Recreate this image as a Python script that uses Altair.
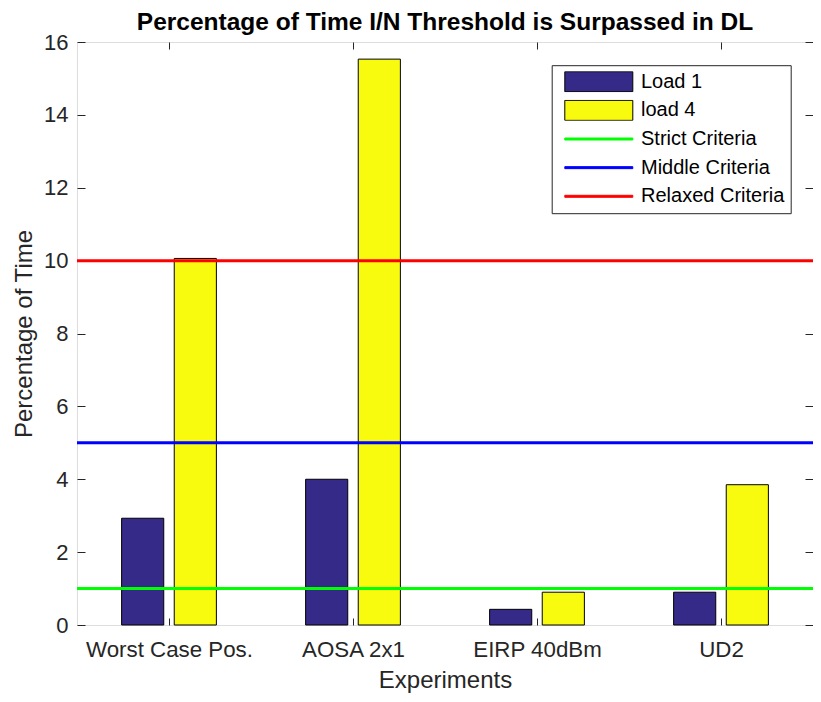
import json
import altair as alt
import pandas as pd

# ---------------- data ----------------
categories = ["Worst Case Pos.", "AOSA 2x1", "EIRP 40dBm", "UD2"]
load1_values = [2.93, 4.00, 0.43, 0.90]
load4_values = [10.06, 15.53, 0.90, 3.85]
bar_series = ["Load 1", "load 4"]
criteria_names = ["Strict Criteria", "Middle Criteria", "Relaxed Criteria"]
criteria_values = [1, 5, 10]
y_tick_values = [0, 2, 4, 6, 8, 10, 12, 14, 16]
x_tick_values = [1, 2, 3, 4]

# ---------------- styles ----------------
series_order = bar_series + criteria_names
fill_colors = ["#352a87", "#f9fb0e", "#00ff00", "#0000ff", "#ff0000"]
stroke_colors = ["#000000", "#000000", "#00ff00", "#0000ff", "#ff0000"]
bar_shape = "M-0.34,-1H6.46V1H-0.34Z"
line_shape = "M-0.34,-0.1H6.46V0.1H-0.34Z"
shapes = [bar_shape, bar_shape, line_shape, line_shape, line_shape]
FONT = "Liberation Sans"
TXT = "#262626"
BAR_W = 0.229
OFFSET = 0.143

rows = []
for i, cat in enumerate(categories):
    rows.append({"category": cat, "group": i + 1, "slot": 0,
                 "series": bar_series[0], "value": load1_values[i]})
    rows.append({"category": cat, "group": i + 1, "slot": 1,
                 "series": bar_series[1], "value": load4_values[i]})
bars_df = pd.DataFrame(rows)
crit_df = pd.DataFrame({"series": criteria_names, "value": criteria_values})

x_scale = alt.Scale(domain=[0.5, 4.5], nice=False, zero=False)
y_scale = alt.Scale(domain=[0, 16], nice=False, zero=False)
fill_scale = alt.Scale(domain=series_order, range=fill_colors)
stroke_scale = alt.Scale(domain=series_order, range=stroke_colors)
shape_scale = alt.Scale(domain=series_order, range=shapes)

label_expr = json.dumps(categories) + "[datum.value - 1]"
names_js = json.dumps(series_order)
fill_expr = f"{json.dumps(fill_colors)}[indexof({names_js}, datum.series)]"
stroke_expr = f"{json.dumps(stroke_colors)}[indexof({names_js}, datum.series)]"

common_axis = dict(grid=False, domain=False, tickColor=TXT, tickWidth=1,
                   labelFont=FONT, labelColor=TXT, titleFont=FONT,
                   titleColor=TXT, titleFontWeight="normal")

bars = alt.Chart(bars_df).transform_calculate(
    x0=f"datum.group + (datum.slot == 0 ? {-OFFSET} : {OFFSET}) - {BAR_W / 2}",
    x1=f"datum.group + (datum.slot == 0 ? {-OFFSET} : {OFFSET}) + {BAR_W / 2}",
    base="0",
    fillc=fill_expr,
).mark_bar(stroke="#000000", strokeWidth=1).encode(
    x=alt.X("x0:Q", scale=x_scale,
            axis=alt.Axis(orient="bottom", values=x_tick_values, labelExpr=label_expr,
                          title="Experiments", offset=-7, tickSize=7,
                          labelFontSize=22.3, labelPadding=13, titleFontSize=24,
                          titlePadding=8, **common_axis)),
    x2="x1:Q",
    y=alt.Y("value:Q", scale=y_scale, stack=None,
            axis=alt.Axis(orient="left", values=y_tick_values, title="Percentage of Time",
                          offset=-8, tickSize=8, labelFontSize=22, labelPadding=9,
                          titleFontSize=24, titlePadding=7, **common_axis)),
    y2="base:Q",
    fill=alt.Fill("fillc:N", scale=None),
)

rules = alt.Chart(crit_df).transform_calculate(
    strokec=stroke_expr
).mark_rule(strokeWidth=3).encode(
    y=alt.Y("value:Q", scale=y_scale, axis=None),
    stroke=alt.Stroke("strokec:N", scale=None),
)

legend = alt.Legend(
    title=None, orient="none", legendX=474.7, legendY=23.2, direction="vertical",
    columns=1, padding=6, strokeColor=TXT, fillColor="white",
    labelFont=FONT, labelFontSize=20, labelColor="#000000", labelOffset=62.3,
    symbolSize=400, symbolOpacity=1, symbolStrokeWidth=1, rowPadding=7.65,
    clipHeight=21,
)

dummy = alt.Chart(bars_df).mark_point(filled=True, opacity=0).encode(
    x=alt.X("group:Q", scale=x_scale,
            axis=alt.Axis(orient="top", values=x_tick_values, labels=False, title=None,
                          offset=-7, tickSize=7, **common_axis)),
    y=alt.Y("value:Q", scale=y_scale,
            axis=alt.Axis(orient="right", values=y_tick_values, labels=False, title=None,
                          offset=-8, tickSize=8, **common_axis)),
    fill=alt.Fill("series:N", scale=fill_scale, legend=legend),
    stroke=alt.Stroke("series:N", scale=stroke_scale, legend=legend),
    shape=alt.Shape("series:N", scale=shape_scale, legend=legend),
)

chart = alt.layer(bars, rules, dummy).resolve_axis(
    x="independent", y="independent"
).properties(
    width=736, height=583,
    autosize=alt.AutoSizeParams(type="none"),
    padding={"left": 69, "top": 34, "right": 0, "bottom": 69},
    title=alt.Title("Percentage of Time I/N Threshold is Surpassed in DL",
                    font=FONT, fontSize=24.5, fontWeight="bold", color="#000000",
                    anchor="middle", frame="group", offset=10, dy=14),
).configure_view(stroke=TXT, strokeWidth=1).configure(background="white")

chart.save("out.html", embed_options={"renderer": "svg", "actions": False})
